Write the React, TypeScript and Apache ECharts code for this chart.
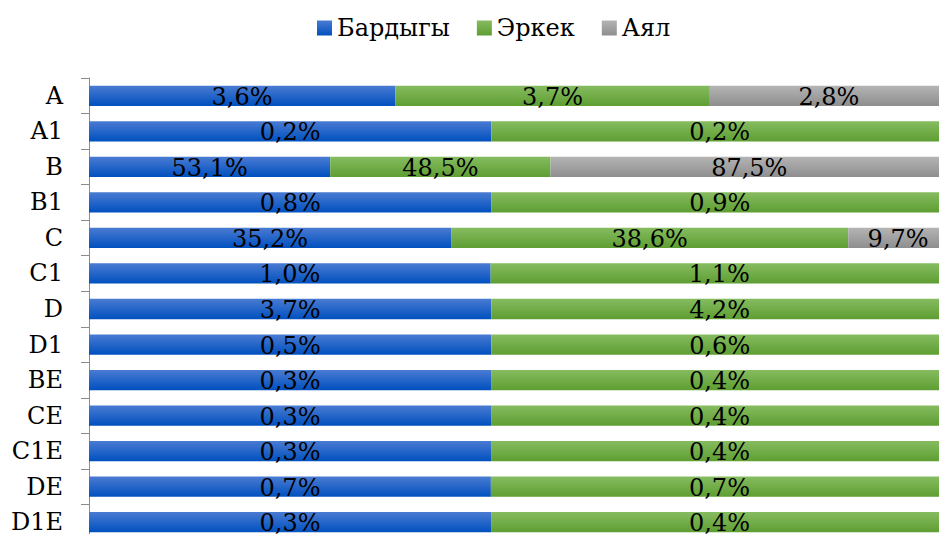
import React, { useEffect, useRef } from "react";
import * as echarts from "echarts";

const categories = ["A", "A1", "B", "B1", "C", "C1", "D", "D1", "BE", "CE", "C1E", "DE", "D1E"];
const seriesNames = ["Бардыгы", "Эркек", "Аял"];
const totalValues = [3.6, 0.215, 53.1, 0.82, 35.2, 1.01, 3.7, 0.52, 0.33, 0.33, 0.33, 0.655, 0.33];
const maleValues = [3.7, 0.244, 48.5, 0.93, 38.6, 1.15, 4.2, 0.59, 0.375, 0.375, 0.375, 0.745, 0.375];
const femaleValues = [2.8, null, 87.5, null, 9.7, null, null, null, null, null, null, null, null];

const FONT = "DejaVu Serif";
const FS = 24;

const grad = (top: string, bottom: string) =>
  new echarts.graphic.LinearGradient(0, 0, 0, 1, [
    { offset: 0, color: top },
    { offset: 1, color: bottom },
  ]);

export default function App() {
  const ref = useRef<HTMLDivElement>(null);
  useEffect(() => {
    if (!ref.current) return;
    const chart = echarts.init(ref.current, null, { renderer: "svg" });
    const colors = [
      grad("#4a7bd2", "#0050bf"),
      grad("#86bc60", "#5e9e32"),
      grad("#b4b4b4", "#8e8e8e"),
    ];
    const dataSets = [totalValues, maleValues, femaleValues];
    const sums = categories.map((_, k) =>
      dataSets.reduce((s, arr) => s + (arr[k] == null ? 0 : (arr[k] as number)), 0)
    );
    chart.setOption({
      animation: false,
      legend: {
        left: 312,
        top: 11,
        itemWidth: 15,
        itemHeight: 15,
        itemGap: 27,
        icon: "rect",
        textStyle: { fontFamily: FONT, fontSize: FS, color: "#000" },
        data: seriesNames,
      },
      grid: { left: 89, right: 12, top: 78, bottom: 20, containLabel: false },
      xAxis: { type: "value", show: false, min: 0, max: 100 },
      yAxis: {
        type: "category",
        inverse: true,
        data: categories,
        axisLine: { show: true, lineStyle: { color: "#8c8c8c", width: 1 } },
        axisTick: { show: true, length: 8, lineStyle: { color: "#8c8c8c" } },
        axisLabel: { color: "#000", fontFamily: FONT, fontSize: FS, margin: 26 },
      },
      series: seriesNames.map((name, i) => ({
        name,
        type: "bar",
        stack: "total",
        barCategoryGap: "43%",
        itemStyle: { color: colors[i] },
        label: {
          show: true,
          position: "inside",
          color: "#000",
          fontFamily: FONT,
          fontSize: FS,
          offset: [0, 1],
          formatter: (p: any) =>
            p.data == null ? "" : Number(p.data.orig).toFixed(1).replace(".", ",") + "%",
        },
        data: dataSets[i].map((v, k) =>
          v == null ? null : { value: ((v as number) / sums[k]) * 100, orig: v }
        ),
      })),
    });
    return () => chart.dispose();
  }, []);
  return (
    <div style={{ position: "fixed", left: 0, top: 0, width: 939, height: 534, overflow: "hidden", background: "#fff" }}>
      <div ref={ref} style={{ width: 960, height: 560 }} />
    </div>
  );
}
